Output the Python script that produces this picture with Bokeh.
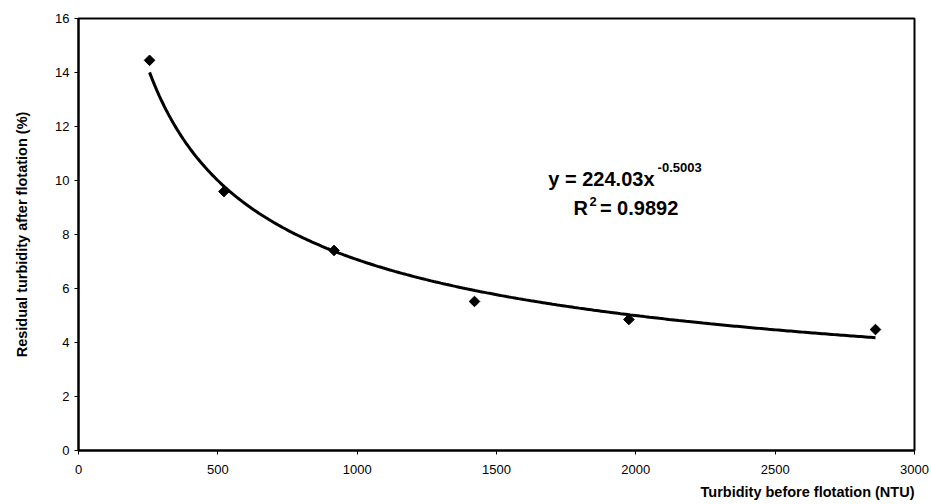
import numpy as np
from bokeh.plotting import figure
from bokeh.models import Range1d, SingleIntervalTicker, Label, ColumnDataSource, Title
from bokeh.embed import file_html
from bokeh.resources import INLINE

# Data
turbidity_before = [255, 522, 917, 1421, 1975, 2860]
residual_turbidity = [14.45, 9.59, 7.41, 5.52, 4.85, 4.48]

# Power trendline shown on the chart: y = a * x^b
fit_a = 224.03
fit_b = -0.5003
fit_r2 = 0.9892

x_ticks_interval = 500
y_ticks_interval = 2

FONT = "Liberation Sans"

p = figure(width=931, height=504, output_backend="svg", toolbar_location=None,
           x_range=Range1d(0, 3000), y_range=Range1d(0, 16),
           min_border_left=78, min_border_right=17, min_border_top=18, min_border_bottom=10)

p.background_fill_color = "white"
p.border_fill_color = "white"
p.outline_line_color = "black"
p.outline_line_width = 2
p.xgrid.visible = False
p.ygrid.visible = False

p.xaxis.ticker = SingleIntervalTicker(interval=x_ticks_interval)
p.yaxis.ticker = SingleIntervalTicker(interval=y_ticks_interval)
for ax in (p.xaxis, p.yaxis):
    ax.axis_line_width = 2
    ax.axis_line_color = "black"
    ax.major_tick_in = 0
    ax.major_tick_out = 4
    ax.major_tick_line_color = "black"
    ax.minor_tick_line_color = None
    ax.major_label_text_font = FONT
    ax.major_label_text_font_size = "13px"
    ax.major_label_text_color = "black"
p.xaxis.major_label_standoff = 10
p.yaxis.major_label_standoff = 5

p.yaxis.axis_label = "Residual turbidity after flotation (%)"
p.yaxis.axis_label_text_font = FONT
p.yaxis.axis_label_text_font_style = "bold"
p.yaxis.axis_label_text_font_size = "14.5px"
p.yaxis.axis_label_text_color = "black"
p.yaxis.axis_label_standoff = 22

# x axis label: right-aligned title below the axis
xt = Title(text="Turbidity before flotation (NTU)", align="right",
           text_font=FONT, text_font_style="bold", text_font_size="14.5px",
           text_color="black", standoff=10)
p.add_layout(xt, "below")

# Trendline computed from the displayed equation over the data span
xs_fit = np.linspace(min(turbidity_before), max(turbidity_before), 300)
ys_fit = fit_a * xs_fit ** fit_b
p.line(xs_fit, ys_fit, line_color="black", line_width=3)

src = ColumnDataSource(dict(x=turbidity_before, y=residual_turbidity))
p.scatter("x", "y", source=src, marker="square", angle=np.pi / 4, size=7.5,
          fill_color="black", line_color="black")

# Equation text
p.add_layout(Label(x=1686, y=10.07, text="y = 224.03x", text_align="left",
                   text_baseline="alphabetic", text_font=FONT, text_font_style="bold",
                   text_font_size="20px", text_color="black"))
p.add_layout(Label(x=2078, y=10.48, text="-0.5003", text_align="left",
                   text_baseline="alphabetic", text_font=FONT, text_font_style="bold",
                   text_font_size="13px", text_color="black"))
p.add_layout(Label(x=1776, y=9.0, text="R", text_align="left",
                   text_baseline="alphabetic", text_font=FONT, text_font_style="bold",
                   text_font_size="20px", text_color="black"))
p.add_layout(Label(x=1834, y=9.22, text="2", text_align="left",
                   text_baseline="alphabetic", text_font=FONT, text_font_style="bold",
                   text_font_size="13px", text_color="black"))
p.add_layout(Label(x=1871, y=9.0, text="= %.4f" % fit_r2, text_align="left",
                   text_baseline="alphabetic", text_font=FONT, text_font_style="bold",
                   text_font_size="20px", text_color="black"))

open("out.html", "w").write(file_html(p, INLINE))
